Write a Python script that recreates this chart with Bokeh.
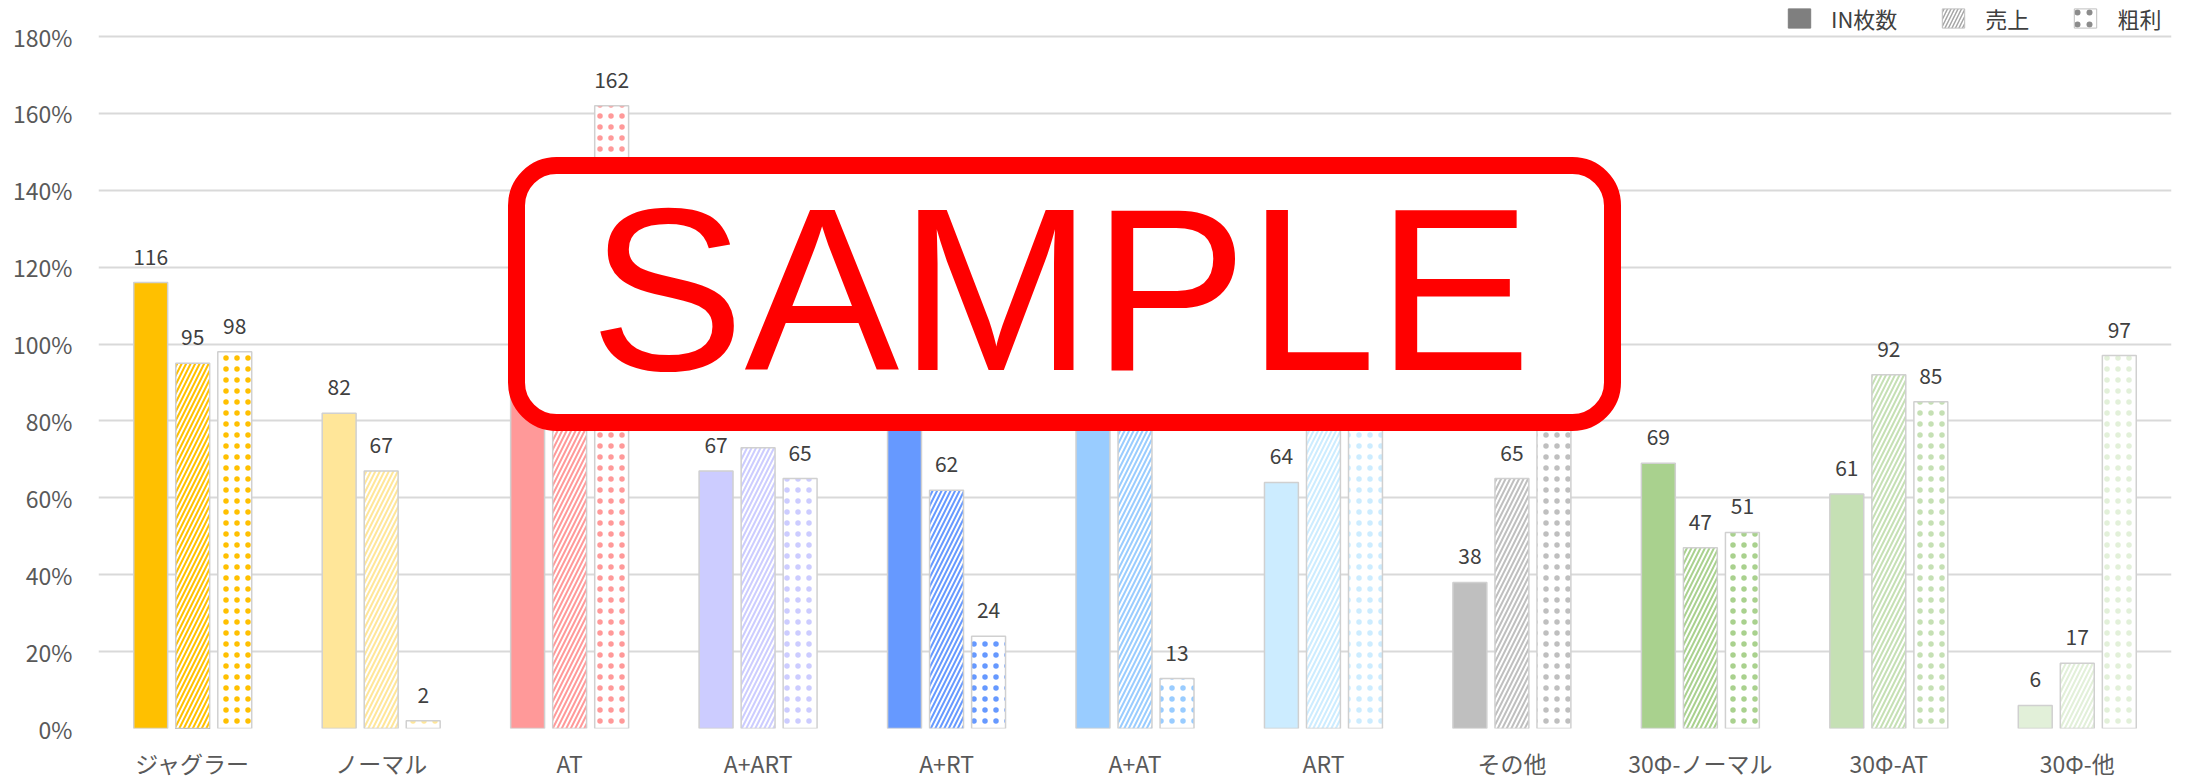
from bokeh.plotting import figure
from bokeh.models import (ColumnDataSource, FactorRange, Range1d, BoxAnnotation, Label,
                          Legend, LegendItem, PrintfTickFormatter, FixedTicker)
from bokeh.transform import dodge
from bokeh.core.properties import value
from bokeh.embed import file_html
from bokeh.resources import INLINE

# ---- data ----
categories = ["ジャグラー", "ノーマル", "AT", "A+ART", "A+RT", "A+AT", "ART", "その他",
              "30Φ-ノーマル", "30Φ-AT", "30Φ-他"]
in_maisu = [116, 82, 100, 67, 95, 90, 64, 38, 69, 61, 6]
uriage = [95, 67, 115, 73, 62, 95, 88, 65, 47, 92, 17]
arari = [98, 2, 162, 65, 24, 13, 90, 85, 51, 85, 97]
cat_colors = ["#FFC000", "#FFE699", "#FF9999", "#CCCCFF", "#6699FF", "#99CCFF", "#CCECFF",
              "#BFBFBF", "#A9D18E", "#C5E0B4", "#E2F0D9"]
series_names = ["IN枚数", "売上", "粗利"]
y_ticks = [0, 20, 40, 60, 80, 100, 120, 140, 160, 180]
watermark = "SAMPLE"

FONT = "Noto Sans CJK JP"

src = ColumnDataSource(dict(
    cat=categories, v1=in_maisu, v2=uriage, v3=arari, color=cat_colors,
    t1=[str(v) for v in in_maisu], t2=[str(v) for v in uriage], t3=[str(v) for v in arari],
))

# frame spans the full height above the axis; the 180% line sits 36px below the top
Y_MAX = 180
Y_TOP = Y_MAX * 728 / 692

p = figure(x_range=FactorRange(factors=categories, range_padding=0),
           y_range=Range1d(0, Y_TOP),
           width=2208, height=783, output_backend="svg", toolbar_location=None,
           min_border_left=98, min_border_right=37, min_border_bottom=55, min_border_top=0)

OFF = 0.223
W = 0.18
EDGE = "#D0D0D0"

p.vbar(x=dodge("cat", -OFF, range=p.x_range), top="v1", width=W, source=src,
       fill_color="color", line_color=EDGE, line_width=1.5)
p.vbar(x=dodge("cat", 0, range=p.x_range), top="v2", width=W, source=src,
       fill_color="white", line_color=EDGE, line_width=1.5,
       hatch_pattern="/", hatch_color="color", hatch_weight=2, hatch_scale=9)
p.vbar(x=dodge("cat", OFF, range=p.x_range), top="v3", width=W, source=src,
       fill_color="white", line_color=EDGE, line_width=1.5,
       hatch_pattern=".", hatch_color="color", hatch_weight=1.0, hatch_scale=11)

for off, col in [(-OFF, "1"), (0, "2"), (OFF, "3")]:
    p.text(x=dodge("cat", off, range=p.x_range), y="v" + col, text="t" + col, source=src,
           text_align="center", text_baseline="alphabetic", y_offset=-26,
           text_font=value(FONT), text_font_size="21px", text_color="#404040")

# legend proxies (drawn below the visible y range, so clipped)
lx = [categories[0]]
r1 = p.vbar(x=lx, top=[-10], bottom=[-20], width=W, fill_color="#7F7F7F", line_color="#7F7F7F")
r2 = p.vbar(x=lx, top=[-10], bottom=[-20], width=W, fill_color="white", line_color="#BFBFBF",
            hatch_pattern="/", hatch_color="#A6A6A6", hatch_weight=1.5, hatch_scale=7)
r3 = p.vbar(x=lx, top=[-10], bottom=[-20], width=W, fill_color="white", line_color="#BFBFBF",
            hatch_pattern=".", hatch_color="#8C8C8C", hatch_weight=1.2, hatch_scale=12)
legend = Legend(items=[LegendItem(label=series_names[0], renderers=[r1]),
                       LegendItem(label=series_names[1], renderers=[r2]),
                       LegendItem(label=series_names[2], renderers=[r3])],
                orientation="horizontal", location=(1687, 694),
                glyph_width=28, glyph_height=24, label_standoff=18, spacing=42,
                padding=2, margin=0, border_line_color=None, background_fill_alpha=0,
                label_text_font=FONT, label_text_font_size="22px", label_text_color="#404040")
p.add_layout(legend)

# axes / grid
p.outline_line_color = None
p.xgrid.grid_line_color = None
p.ygrid.grid_line_color = "#D9D9D9"
p.ygrid.grid_line_width = 2
p.yaxis.ticker = FixedTicker(ticks=y_ticks)
p.yaxis.formatter = PrintfTickFormatter(format="%d%%")
for ax in (p.xaxis[0], p.yaxis[0]):
    ax.axis_line_color = None
    ax.major_tick_line_color = None
    ax.minor_tick_line_color = None
    ax.major_label_text_font = FONT
    ax.major_label_text_color = "#595959"
p.yaxis.major_label_text_font_size = "23px"
p.yaxis.major_label_standoff = 20
p.xaxis.major_label_text_font_size = "23px"
p.xaxis.major_label_standoff = 11

# watermark overlay: opaque white panel + rounded red frame + text
L, R, T, B = 516, 1612, 165, 422
RAD = 40
for (l, r, t, b) in [(L, R, T + RAD, B - RAD), (L + RAD, R - RAD, T, B), (L + 12, R - 12, T + 12, B - 12)]:
    p.add_layout(BoxAnnotation(left=l, right=r, top=t, bottom=b,
                               left_units="canvas", right_units="canvas",
                               top_units="canvas", bottom_units="canvas",
                               fill_color="white", fill_alpha=1.0, line_alpha=0))
box = BoxAnnotation(left=L, right=R, top=T, bottom=B,
                    left_units="canvas", right_units="canvas",
                    top_units="canvas", bottom_units="canvas",
                    fill_color="white", fill_alpha=1.0,
                    line_color="#FF0000", line_alpha=1.0, line_width=17, border_radius=RAD)
p.add_layout(box)
lab = Label(x=1060, y=289, x_units="canvas", y_units="canvas", text=watermark,
            text_align="center", text_baseline="alphabetic",
            text_font="Liberation Sans", text_font_size="232px", text_color="#FF0000")
p.add_layout(lab)

open("out.html", "w").write(file_html(p, INLINE))
